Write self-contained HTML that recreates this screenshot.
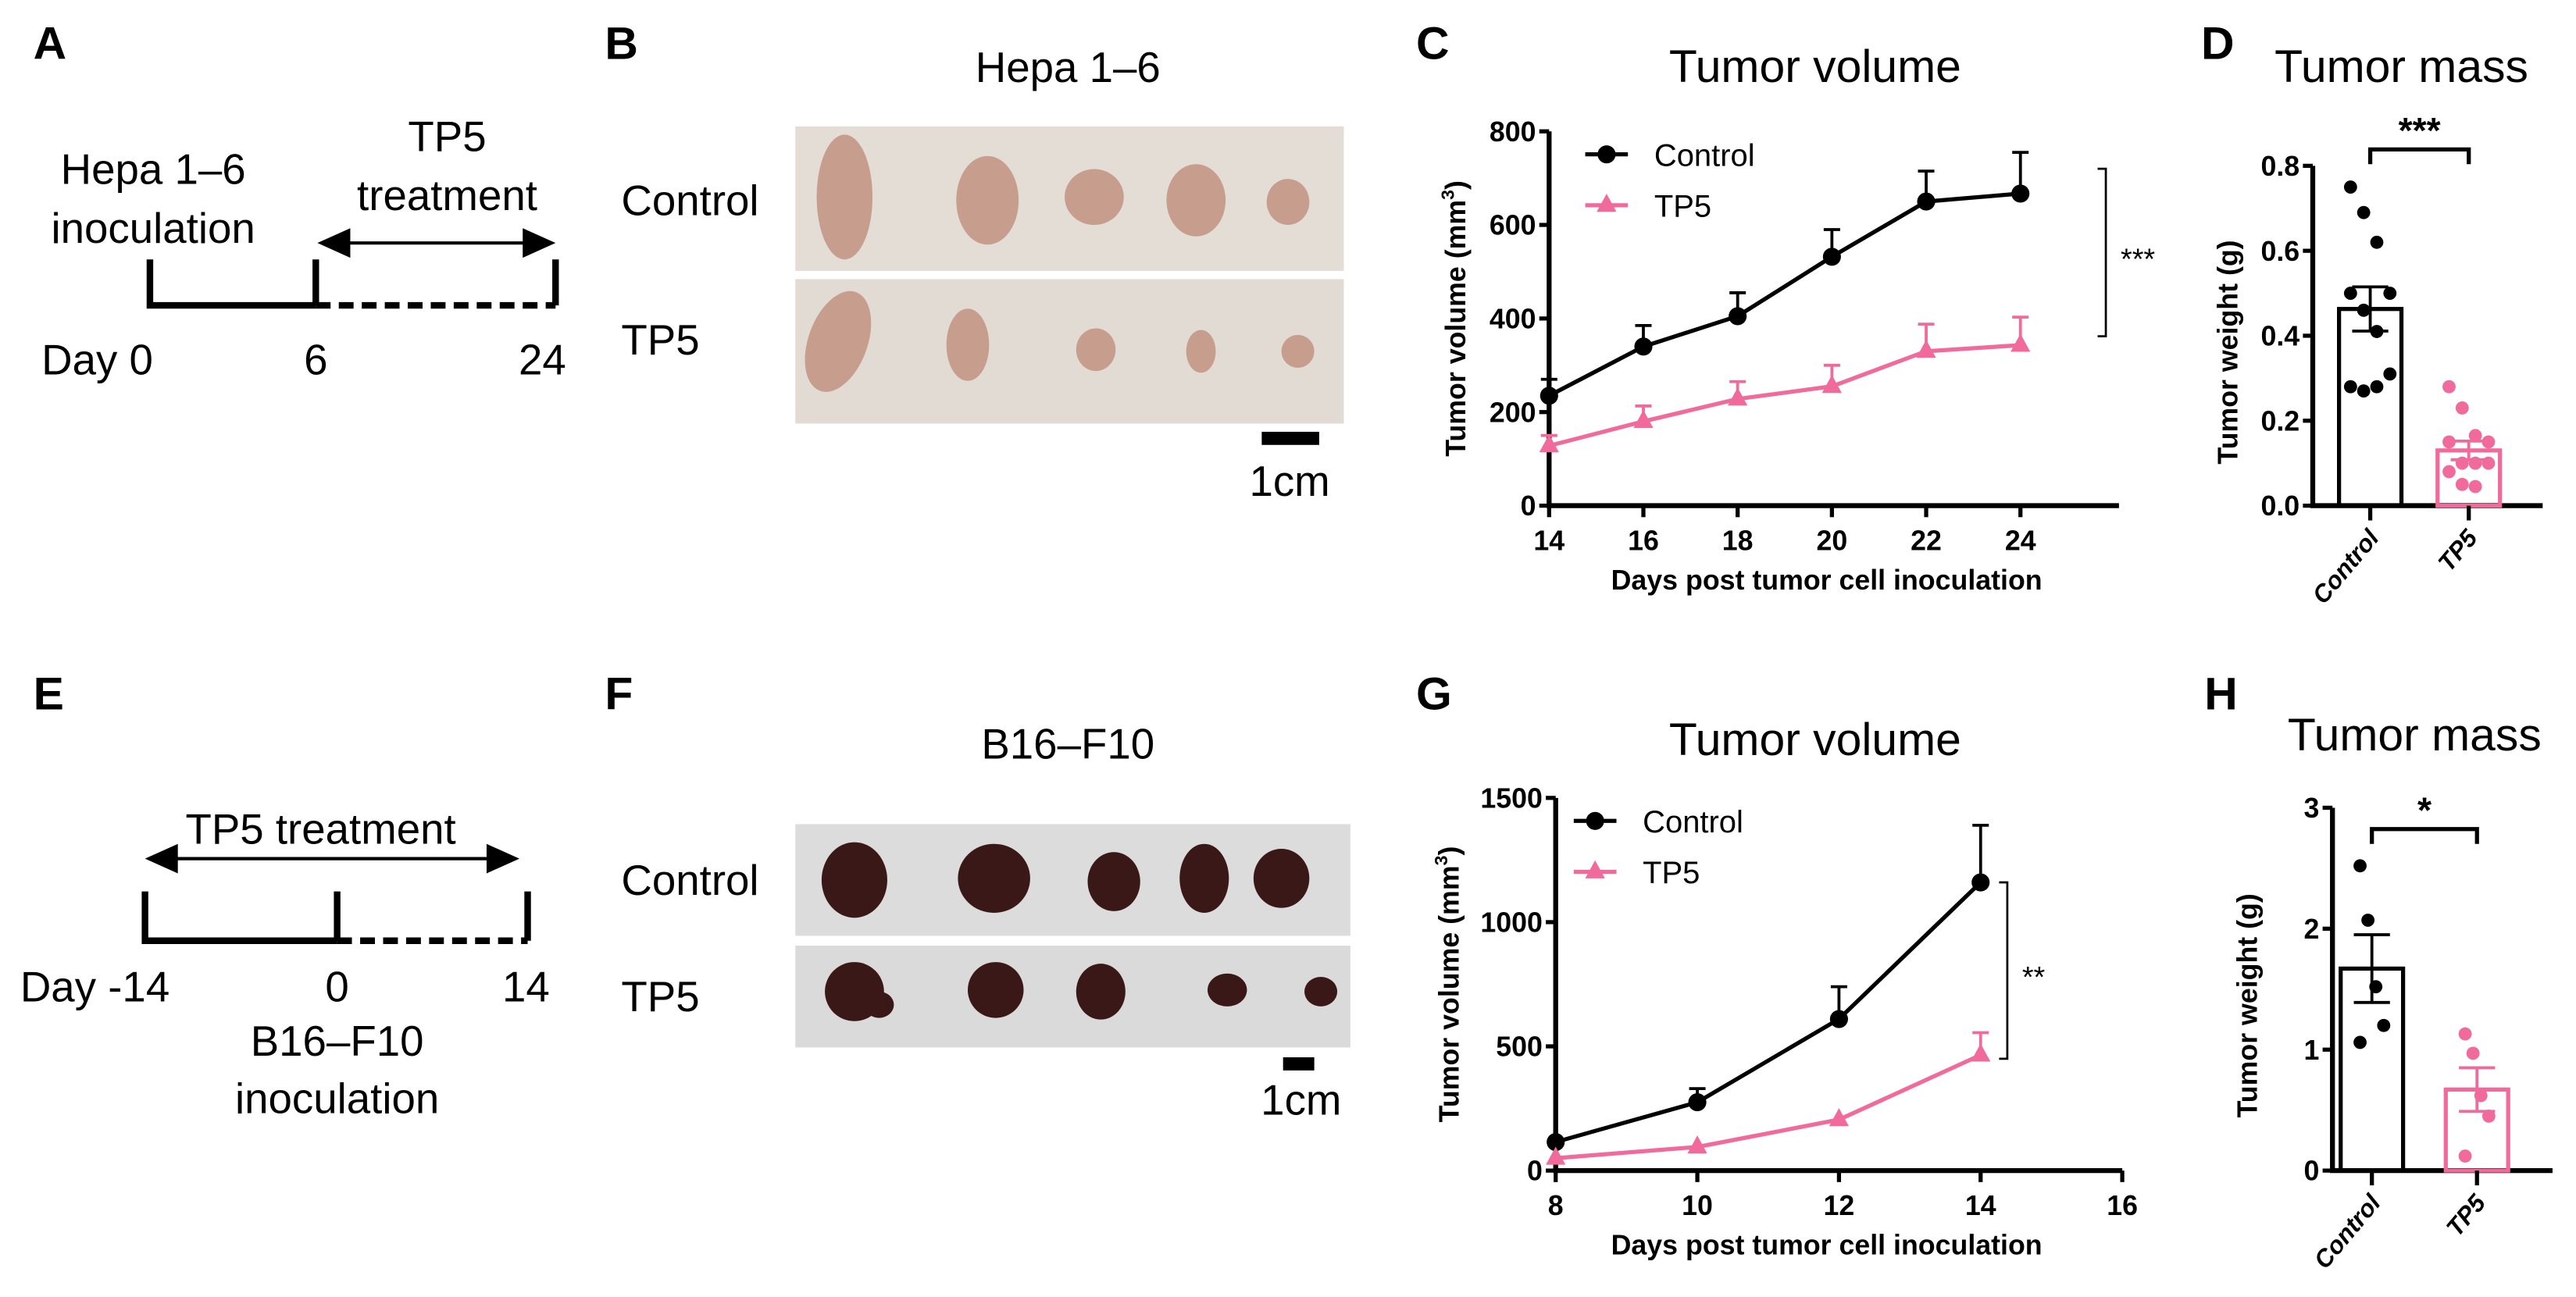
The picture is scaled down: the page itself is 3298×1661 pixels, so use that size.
<!DOCTYPE html>
<html><head><meta charset="utf-8"><style>
html,body{margin:0;padding:0;background:#fff;}
svg{display:block;font-family:"Liberation Sans",Arial,sans-serif;}
</style></head><body>
<svg id="fig" width="3298" height="1661" viewBox="0 0 1568 790" xmlns="http://www.w3.org/2000/svg">
<g font-size="26">
<text x="20" y="36" font-size="28" font-weight="bold">A</text>
<text x="93" y="112" text-anchor="middle">Hepa 1–6</text>
<text x="93" y="148" text-anchor="middle">inoculation</text>
<text x="272" y="92" text-anchor="middle">TP5</text>
<text x="272" y="128" text-anchor="middle">treatment</text>
<path d="M91 158V186H192 M192 158V186 M338 158V186" stroke="#000" stroke-width="4" fill="none"/>
<path d="M192 186H338" stroke="#000" stroke-width="4" stroke-dasharray="9,5"/>
<path d="M210 148H320" stroke="#000" stroke-width="2"/>
<path d="M193 148l20-9v18z M338 148l-20-9v18z" fill="#000"/>
<text x="25" y="228">Day 0</text>
<text x="192" y="228" text-anchor="middle">6</text>
<text x="330" y="228" text-anchor="middle">24</text>
</g>
<g font-size="26">
<text x="20" y="432" font-size="28" font-weight="bold">E</text>
<text x="195" y="514" text-anchor="middle">TP5 treatment</text>
<path d="M106 523H298" stroke="#000" stroke-width="2"/>
<path d="M88 523l20-9v18z M316 523l-20-9v18z" fill="#000"/>
<path d="M88 543V573H205 M205 543V573 M321 543V573" stroke="#000" stroke-width="4" fill="none"/>
<path d="M205 573H321" stroke="#000" stroke-width="4" stroke-dasharray="9,5"/>
<text x="12" y="610">Day -14</text>
<text x="205" y="610" text-anchor="middle">0</text>
<text x="320" y="610" text-anchor="middle">14</text>
<text x="205" y="643" text-anchor="middle">B16–F10</text>
<text x="205" y="678" text-anchor="middle">inoculation</text>
</g>
<g font-size="26">
<text x="368" y="36" font-size="28" font-weight="bold">B</text>
<text x="650" y="50" text-anchor="middle">Hepa 1–6</text>
<rect x="484" y="77" width="334" height="88" fill="#e4ddd5"/>
<rect x="484" y="170" width="334" height="88" fill="#e2dbd3"/>
<g fill="#c79d8e">
<ellipse cx="514" cy="120" rx="17" ry="38"/><ellipse cx="601" cy="122" rx="19" ry="27"/><ellipse cx="666" cy="120" rx="18" ry="17"/><ellipse cx="728" cy="122" rx="18" ry="22"/><ellipse cx="784" cy="123" rx="13" ry="14"/>
<ellipse cx="510" cy="208" rx="18" ry="32" transform="rotate(20 510 208)"/><ellipse cx="589" cy="210" rx="13" ry="22"/><ellipse cx="667" cy="213" rx="12" ry="13"/><ellipse cx="731" cy="214" rx="9" ry="13"/><ellipse cx="790" cy="214" rx="10" ry="10"/>
</g>
<text x="378" y="131">Control</text>
<text x="378" y="216">TP5</text>
<rect x="768" y="263" width="35" height="8" fill="#000"/>
<text x="785" y="302" text-anchor="middle">1cm</text>
</g>
<g font-size="26">
<text x="368" y="432" font-size="28" font-weight="bold">F</text>
<text x="650" y="462" text-anchor="middle">B16–F10</text>
<rect x="484" y="502" width="338" height="68" fill="#dcdcdc"/>
<rect x="484" y="576" width="338" height="62" fill="#dadada"/>
<g fill="#3b1818">
<ellipse cx="520" cy="536" rx="20" ry="23"/><ellipse cx="605" cy="535" rx="22" ry="21"/><ellipse cx="678" cy="537" rx="16" ry="18"/><ellipse cx="733" cy="535" rx="15" ry="21"/><ellipse cx="780" cy="535" rx="17" ry="18"/>
<ellipse cx="520" cy="604" rx="18" ry="18"/><ellipse cx="535" cy="612" rx="9" ry="8"/><ellipse cx="606" cy="603" rx="17" ry="17"/><ellipse cx="670" cy="604" rx="15" ry="17"/><ellipse cx="747" cy="603" rx="12" ry="10"/><ellipse cx="804" cy="604" rx="10" ry="9"/>
</g>
<text x="378" y="545">Control</text>
<text x="378" y="616">TP5</text>
<rect x="781" y="644" width="19" height="8" fill="#000"/>
<text x="792" y="679" text-anchor="middle">1cm</text>
</g>
<text x="862" y="36" font-size="28" font-weight="bold">C</text>
<text x="1340" y="36" font-size="28" font-weight="bold">D</text>
<text x="862" y="432" font-size="28" font-weight="bold">G</text>
<text x="1342" y="432" font-size="28" font-weight="bold">H</text>
<g id="charts"></g>
</svg>
<script>
// Panel C data
const daysC = [14,16,18,20,22,24];
const ctrlC = [235,340,405,532,650,667];
const ctrlErrC = [270,385,455,590,715,755];
const tp5C = [128,180,228,255,330,343];
const tp5ErrC = [150,213,265,300,388,403];
const yTicksC = [0,200,400,600,800];
const bracketC = [720,362];
// Panel G data
const daysG = [8,10,12,14];
const xTicksG = [8,10,12,14,16];
const ctrlG = [115,275,610,1160];
const ctrlErrG = [115,330,740,1390];
const tp5G = [50,95,205,465];
const tp5ErrG = [50,95,205,555];
const yTicksG = [0,500,1000,1500];
const bracketG = [1160,450];
// Panel D data
const groupsD = ['Control','TP5'];
const meanD = [0.463,0.13];
const semD = [0.052,0.022];
const ptsCtrlD = [0.75,0.69,0.62,0.50,0.50,0.46,0.41,0.31,0.28,0.27,0.28];
const ptsTp5D = [0.28,0.23,0.165,0.15,0.15,0.10,0.10,0.10,0.08,0.05,0.045];
const yTicksD = [0,0.2,0.4,0.6,0.8];
// Panel H data
const meanH = [1.67,0.67];
const semH = [0.28,0.18];
const ptsCtrlH = [2.52,2.07,1.52,1.2,1.06];
const ptsTp5H = [1.13,0.97,0.62,0.45,0.12];
const yTicksH = [0,1,2,3];

const NS='http://www.w3.org/2000/svg';
const root=document.getElementById('charts');
const PINK='#f06b9c';
function mk(tag,attrs,parent,txt){const e=document.createElementNS(NS,tag);for(const k in attrs)e.setAttribute(k,attrs[k]);if(txt!==undefined)e.textContent=txt;(parent||root).appendChild(e);return e;}

function lineChart(o){
  const g=mk('g',{});
  
  
  const X=v=>o.x0+(v-o.xmin)/(o.xmax-o.xmin)*(o.x1-o.x0);
  const Y=v=>o.y0-(v-o.ymin)/(o.ymax-o.ymin)*(o.y0-o.y1);
  const t=mk('text',{x:1105,y:o.titleY,'text-anchor':'middle','font-size':28},g,'Tumor volume');
  
  
  mk('path',{d:`M${o.x0} ${o.y1}V${o.y0}H${o.axEnd}`,stroke:'#000','stroke-width':3,fill:'none'},g);
  o.yTicks.forEach(v=>{mk('path',{d:`M${o.x0-6} ${Y(v)}H${o.x0}`,stroke:'#000','stroke-width':2.5},g);
    const l=mk('text',{x:o.x0-8,y:Y(v)+6,'text-anchor':'end','font-size':17,'font-weight':'bold'},g,v);
    
    });
  o.xTicks.forEach(v=>{mk('path',{d:`M${X(v)} ${o.y0}V${o.y0+7}`,stroke:'#000','stroke-width':2.5},g);
    const l=mk('text',{x:X(v),y:o.y0+27,'text-anchor':'middle','font-size':17,'font-weight':'bold'},g,v);
    
    });
  const xl=mk('text',{x:1112,y:o.y0+51,'text-anchor':'middle','font-size':17,'font-weight':'bold'},g,'Days post tumor cell inoculation');
  
  
  const yc=(o.y0+o.y1)/2;
  const yl=mk('text',{x:o.ylx,y:yc,'text-anchor':'middle','font-size':17,'font-weight':'bold',transform:`rotate(-90 ${o.ylx} ${yc})`},g);
  
  
  yl.innerHTML='Tumor volume (mm<tspan dy="-7" font-size="11">3</tspan><tspan dy="7">)</tspan>';
  const series=[[o.ctrl,o.ctrlErr,'#000','circle','series-control'],[o.tp5,o.tp5Err,PINK,'tri','series-tp5']];
  series.forEach(([vals,err,col,shape,nm])=>{
    const sg=mk('g',{},g);
    
    
    vals.forEach((v,i)=>{const x=X(o.days[i]);if(err[i]>v){mk('path',{d:`M${x} ${Y(v)}V${Y(err[i])}M${x-5} ${Y(err[i])}H${x+5}`,stroke:col,'stroke-width':1.8},sg);}});
    mk('polyline',{points:vals.map((v,i)=>X(o.days[i])+','+Y(v)).join(' '),fill:'none',stroke:col,'stroke-width':2.5},sg);
    vals.forEach((v,i)=>{const x=X(o.days[i]),y=Y(v);let m;
      if(shape==='circle')m=mk('circle',{cx:x,cy:y,r:5.5,fill:col},sg);
      else m=mk('path',{d:`M${x} ${y-7}L${x+6} ${y+4}H${x-6}z`,fill:col},sg);
      
      });
  });
  const lg=mk('g',{},g);
  
  
  mk('path',{d:`M${o.legX} ${o.legY}h26`,stroke:'#000','stroke-width':2.5},lg);
  mk('circle',{cx:o.legX+13,cy:o.legY,r:5.5},lg);
  mk('text',{x:o.legX+42,y:o.legY+7,'font-size':19},lg,'Control');
  mk('path',{d:`M${o.legX} ${o.legY+31}h26`,stroke:PINK,'stroke-width':2.5},lg);
  mk('path',{d:`M${o.legX+13} ${o.legY+24}l6 11h-12z`,fill:PINK},lg);
  mk('text',{x:o.legX+42,y:o.legY+38,'font-size':19},lg,'TP5');
  const b1=Y(o.bracket[0]),b2=Y(o.bracket[1]);
  mk('path',{d:`M${o.brX-5} ${b1}H${o.brX}V${b2}H${o.brX-5}`,stroke:'#000','stroke-width':1.3,fill:'none'},g);
  const s=mk('text',{x:o.brX+9,y:(b1+b2)/2+10,'font-size':18},g,o.sig);
  
  
}

function barChart(o){
  const g=mk('g',{});
  
  
  const Y=v=>o.y0-v/o.ymax*(o.y0-o.y1);
  const t=mk('text',{x:o.titleX,y:o.titleY,'text-anchor':'middle','font-size':28},g,'Tumor mass');
  
  
  mk('path',{d:`M${o.x0} ${o.y1}V${o.y0}H${o.axEnd}`,stroke:'#000','stroke-width':3,fill:'none'},g);
  o.yTicks.forEach(v=>{mk('path',{d:`M${o.x0-6} ${Y(v)}H${o.x0}`,stroke:'#000','stroke-width':2.5},g);
    const l=mk('text',{x:o.x0-8,y:Y(v)+6,'text-anchor':'end','font-size':17,'font-weight':'bold'},g,o.fmt(v));
    
    });
  const yc=(o.y0+o.y1)/2+10;
  const yl=mk('text',{x:o.ylx,y:yc,'text-anchor':'middle','font-size':17,'font-weight':'bold',transform:`rotate(-90 ${o.ylx} ${yc})`},g,'Tumor weight (g)');
  
  
  const cols=['#000',PINK];const pts=[o.ptsC,o.ptsT];
  groupsD.forEach((gn,i)=>{const cx=o.cx[i];const col=cols[i];
    const bg=mk('g',{},g);
    
    
    mk('rect',{x:cx-19,y:Y(o.mean[i]),width:38,height:o.y0-Y(o.mean[i]),fill:'none',stroke:col,'stroke-width':2.5},bg);
    const hi=Y(o.mean[i]+o.sem[i]),lo=Y(o.mean[i]-o.sem[i]);
    mk('path',{d:`M${cx} ${hi}V${lo}M${cx-11} ${hi}H${cx+11}M${cx-11} ${lo}H${cx+11}`,stroke:col,'stroke-width':1.8},bg);
    const n=pts[i].length;
    pts[i].forEach((v,k)=>{const off=((k%4)-1.5)*8;const d=mk('circle',{cx:cx+off*(n>6?1:0.6),cy:Y(v),r:4,fill:col},bg);
      
      });
    mk('path',{d:`M${cx} ${o.y0}V${o.y0+9}`,stroke:'#000','stroke-width':2.5},g);
    const l=mk('text',{x:cx+6,y:o.y0+20,'text-anchor':'end','font-size':15,'font-weight':'bold','font-style':'italic',transform:`rotate(-50 ${cx+6} ${o.y0+20})`},g,gn);
    
    
  });
  mk('path',{d:`M${o.cx[0]} ${o.brY+9}V${o.brY}H${o.cx[1]}V${o.brY+9}`,stroke:'#000','stroke-width':2.5,fill:'none'},g);
  const s=mk('text',{x:(o.cx[0]+o.cx[1])/2,y:o.brY-4,'text-anchor':'middle','font-size':22,'font-weight':'bold'},g,o.sig);
  
  
}

lineChart({name:'chart-c-tumor-volume',x0:943,x1:1230,xmin:14,xmax:24,axEnd:1290,y0:308,y1:80,ymin:0,ymax:800,
  days:daysC,xTicks:daysC,yTicks:yTicksC,ctrl:ctrlC,ctrlErr:ctrlErrC,tp5:tp5C,tp5Err:tp5ErrC,bracket:bracketC,titleY:50,ylx:892,legX:965,legY:94,brX:1282,sig:'***'});
lineChart({name:'chart-g-tumor-volume',x0:947,x1:1292,xmin:8,xmax:16,axEnd:1292,y0:713,y1:486,ymin:0,ymax:1500,
  days:daysG,xTicks:xTicksG,yTicks:yTicksG,ctrl:ctrlG,ctrlErr:ctrlErrG,tp5:tp5G,tp5Err:tp5ErrG,bracket:bracketG,titleY:460,ylx:888,legX:958,legY:500,brX:1222,sig:'**'});
barChart({name:'chart-d-tumor-mass',x0:1408,y0:308,y1:101,ymax:0.8,axEnd:1548,cx:[1443,1503],mean:meanD,sem:semD,ptsC:ptsCtrlD,ptsT:ptsTp5D,
  yTicks:yTicksD,fmt:v=>v.toFixed(1),ylx:1362,titleX:1462,titleY:50,brY:91,sig:'***'});
barChart({name:'chart-h-tumor-mass',x0:1420,y0:713,y1:492,ymax:3,axEnd:1554,cx:[1444,1508],mean:meanH,sem:semH,ptsC:ptsCtrlH,ptsT:ptsTp5H,
  yTicks:yTicksH,fmt:v=>String(v),ylx:1374,titleX:1470,titleY:457,brY:505,sig:'*'});
</script>
</body></html>
